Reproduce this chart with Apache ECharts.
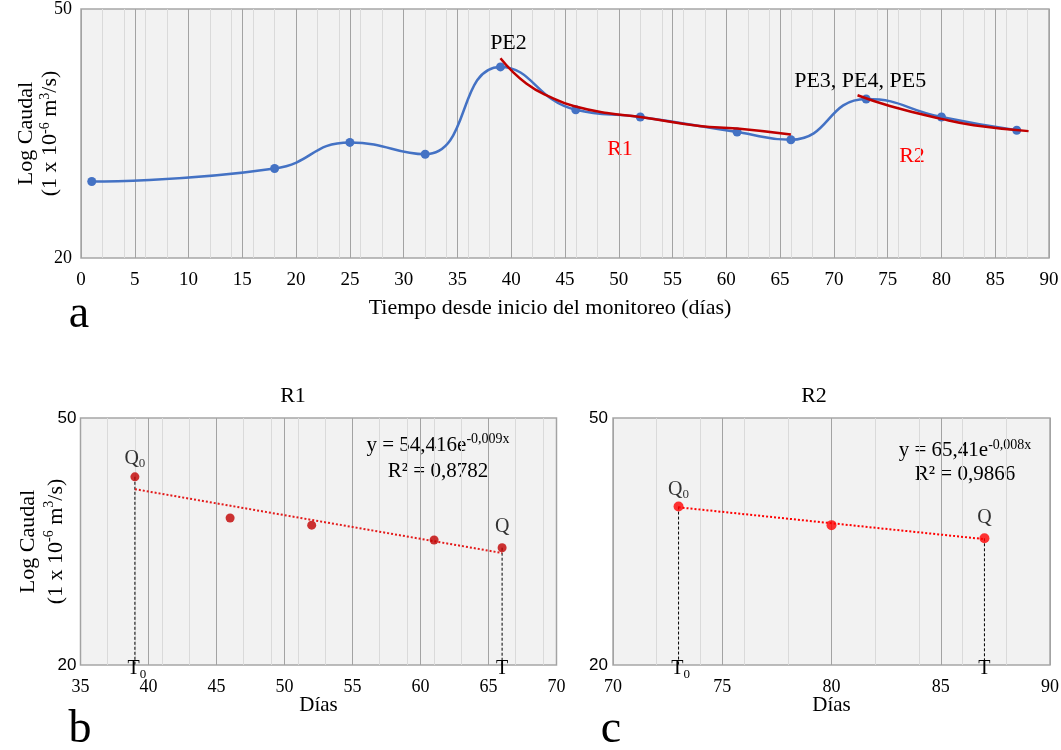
<!DOCTYPE html>
<html>
<head>
<meta charset="utf-8">
<script src="https://cdn.jsdelivr.net/npm/echarts@6/dist/echarts.min.js"></script>
<style>
  html, body { margin: 0; padding: 0; background: #ffffff; }
  #chart { width: 1061px; height: 750px; }
</style>
</head>
<body>
<div id="chart"></div>
<script>
// Hydrograph: days since start of monitoring and discharge (1e-6 m3/s)
const dias = [1, 18, 25, 32, 39, 46, 52, 61, 66, 73, 80, 87];
const caudal = [26.5, 27.8, 30.6, 29.3, 40.4, 34.5, 33.6, 31.8, 30.9, 35.9, 33.6, 32.0];
// peak event labels (index in dias)
const picoIdx = [4, 9];
const picoTxt = ['PE2', 'PE3, PE4, PE5'];

// recession curves over the hydrograph
const curvaR1Dias = [39, 41.4, 43.9, 45.8, 48.9, 52, 57.5, 61, 66];
const curvaR1Caudal = [41.7, 38.0, 36.0, 35.0, 34.1, 33.6, 32.5, 32.2, 31.5];
const curvaR2Dias = [72.2, 75.2, 79.9, 83, 88.1];
const curvaR2Caudal = [36.4, 35.0, 33.4, 32.6, 31.9];

// recession R1
const diasR1 = [39, 46, 52, 61, 66];
const caudalR1 = [40.2, 34.5, 33.6, 31.8, 30.9];
const tendR1Dias = [39, 66];
const tendR1Caudal = [38.4, 30.3];

// recession R2
const diasR2 = [73, 80, 87];
const caudalR2 = [36.0, 33.6, 32.0];
const tendR2Dias = [73, 87];
const tendR2Caudal = [35.9, 31.9];

// axis ticks
const yTicks = [20, 50];
const xRangeA = [0, 90];
const xRangeB = [35, 70];
const xRangeC = [70, 90];

const SERIF = 'Liberation Serif';
const SANS = 'Liberation Sans';

const pairs = (xs, ys) => xs.map((x, i) => [x, ys[i]]);

// rich styles for sub/superscripts
const subRich = (size) => ({
  q: { fontFamily: SERIF, fontSize: size, lineHeight: 24, color: '#000' },
  s: { fontFamily: SERIF, fontSize: 13, lineHeight: 13, padding: [11, 0, 0, 0], verticalAlign: 'top', color: '#000' }
});
const nameRich = (lh) => ({
  n: { fontFamily: SERIF, fontSize: 22, lineHeight: lh, color: '#000' },
  s: { fontFamily: SERIF, fontSize: 14, lineHeight: 14, padding: [0, 0, lh - 14, 0], verticalAlign: 'top', color: '#000' }
});
const yName = '{n|Log Caudal}\n{n|(1 x 10}{s|-6}{n| m}{s|3}{n|/s)}';

function gridBox(left, top, width, height) {
  return {
    left, top, width, height, show: true, z: 0,
    outerBoundsMode: 'none', containLabel: false,
    backgroundColor: '#F2F2F2', borderColor: '#A6A6A6', borderWidth: 1.5
  };
}

function xPair(gridIndex, range, fontSize, name, nameGap, namePad) {
  const major = {
    type: 'value', gridIndex, min: range[0], max: range[1], interval: 5, z: 2,
    position: 'bottom',
    axisLine: { show: false }, axisTick: { show: false },
    axisLabel: { fontFamily: SERIF, fontSize, color: '#000', margin: 13 },
    splitLine: { show: true, lineStyle: { color: '#A3A3A3', width: 1 } },
    name, nameLocation: 'middle', nameGap, nameMoveOverlap: false,
    nameTextStyle: { fontFamily: SERIF, fontSize: name.length > 10 ? 22 : 21, color: '#000', padding: namePad }
  };
  const minor = {
    type: 'value', gridIndex, min: range[0], max: range[1], interval: 2, z: 1,
    position: 'top',
    axisLine: { show: false }, axisTick: { show: false }, axisLabel: { show: false },
    splitLine: { show: true, lineStyle: { color: '#DADADA', width: 1 } }
  };
  return [major, minor];
}

function yAxisLog(gridIndex, fontFamily, fontSize, margin, lh, gap) {
  return {
    type: 'log', logBase: 10, gridIndex, min: yTicks[0], max: yTicks[1],
    axisLine: { show: false }, axisTick: { show: false },
    splitLine: { show: false },
    axisLabel: { customValues: yTicks, fontFamily, fontSize, color: '#000', margin },
    name: yName, nameLocation: 'middle', nameRotate: 90, nameGap: gap, nameMoveOverlap: false,
    nameTextStyle: { fontFamily: SERIF, fontSize: 22, lineHeight: lh, color: '#000', rich: nameRich(lh) }
  };
}

// hydrograph points with peak labels
const hidroData = dias.map((d, i) => {
  const item = { value: [d, caudal[i]] };
  const k = picoIdx.indexOf(i);
  if (k >= 0) {
    item.label = {
      show: true, formatter: picoTxt[k], position: 'top', distance: 5,
      offset: k === 0 ? [8, -3] : [-6, 3],
      fontFamily: SERIF, fontSize: 22, color: '#000'
    };
  }
  return item;
});

function pointsWithQ(xs, ys, dists) {
  return xs.map((x, i) => {
    const item = { value: [x, ys[i]] };
    if (i === 0 || i === xs.length - 1) {
      item.label = {
        show: true, position: 'top', distance: i === 0 ? dists[0] : dists[1],
        formatter: i === 0 ? '{q|Q}{s|0}' : '{q|Q}',
        rich: subRich(20)
      };
    }
    return item;
  });
}

function dropLine(x, y, xAxisIndex, yAxisIndex, txt, offset) {
  return {
    type: 'line', xAxisIndex, yAxisIndex, z: 3,
    symbol: 'circle', symbolSize: 2, showSymbol: true,
    itemStyle: { color: 'rgba(0,0,0,0)' },
    lineStyle: { color: '#000', width: 1, type: [3, 2] },
    data: [
      { value: [x, y] },
      { value: [x, yTicks[0]], label: { show: true, position: 'inside', offset, formatter: txt, rich: subRich(20) } }
    ]
  };
}

const chart = echarts.init(document.getElementById('chart'), null, { renderer: 'canvas' });

const option = {
  animation: false,
  backgroundColor: '#ffffff',
  grid: [
    gridBox(81, 9, 968, 249),
    gridBox(80.5, 418, 476, 247),
    gridBox(613, 418, 437, 247)
  ],
  xAxis: [
    ...xPair(0, xRangeA, 19, 'Tiempo desde inicio del monitoreo (días)', 39, [0, 30, 0, 0]),
    ...xPair(1, xRangeB, 18, 'Días', 30, 0),
    ...xPair(2, xRangeC, 18, 'Días', 30, 0)
  ],
  yAxis: [
    yAxisLog(0, SERIF, 18, 9, 24, 19),
    yAxisLog(1, SANS, 17, 4, 28, 10),
    { ...yAxisLog(2, SANS, 17, 5, 28, 10), name: '' }
  ],
  series: [
    {
      type: 'line', xAxisIndex: 0, yAxisIndex: 0, z: 3,
      smooth: true, symbol: 'circle', symbolSize: 9,
      itemStyle: { color: '#4472C4' },
      lineStyle: { color: '#4472C4', width: 2.5 },
      data: hidroData
    },
    {
      type: 'line', xAxisIndex: 0, yAxisIndex: 0, z: 4,
      smooth: true, showSymbol: false,
      lineStyle: { color: '#C00000', width: 2.5 },
      data: pairs(curvaR1Dias, curvaR1Caudal)
    },
    {
      type: 'line', xAxisIndex: 0, yAxisIndex: 0, z: 4,
      smooth: true, showSymbol: false,
      lineStyle: { color: '#C00000', width: 2.5 },
      data: pairs(curvaR2Dias, curvaR2Caudal)
    },
    // R1 panel
    dropLine(diasR1[0], caudalR1[0], 2, 1, '{q|T}{s|0}', [2, 4]),
    dropLine(diasR1[diasR1.length - 1], caudalR1[caudalR1.length - 1], 2, 1, '{q|T}', [0, 4]),
    {
      type: 'line', xAxisIndex: 2, yAxisIndex: 1, z: 3,
      showSymbol: false,
      lineStyle: { color: '#E31A1A', width: 2, type: [2, 2] },
      data: pairs(tendR1Dias, tendR1Caudal)
    },
    {
      type: 'scatter', xAxisIndex: 2, yAxisIndex: 1, z: 5,
      symbolSize: 9, itemStyle: { color: '#C00000' },
      data: pointsWithQ(diasR1, caudalR1, [2, 4])
    },
    // R2 panel
    dropLine(diasR2[0], caudalR2[0], 4, 2, '{q|T}{s|0}', [2, 4]),
    dropLine(diasR2[diasR2.length - 1], caudalR2[caudalR2.length - 1], 4, 2, '{q|T}', [0, 4]),
    {
      type: 'line', xAxisIndex: 4, yAxisIndex: 2, z: 3,
      showSymbol: false,
      lineStyle: { color: '#FF0000', width: 2, type: [2, 2] },
      data: pairs(tendR2Dias, tendR2Caudal)
    },
    {
      type: 'scatter', xAxisIndex: 4, yAxisIndex: 2, z: 5,
      symbolSize: 10, itemStyle: { color: '#FF0000' },
      data: pointsWithQ(diasR2, caudalR2, [0, 4])
    }
  ],
  graphic: [
    // curve names on the hydrograph
    { type: 'text', x: 620, y: 149, style: { text: 'R1', fontFamily: SERIF, fontSize: 22, fill: '#FF0000', align: 'center', verticalAlign: 'middle' } },
    { type: 'text', x: 912, y: 156, style: { text: 'R2', fontFamily: SERIF, fontSize: 22, fill: '#FF0000', align: 'center', verticalAlign: 'middle' } },
    // panel titles
    { type: 'text', x: 293, y: 396, style: { text: 'R1', fontFamily: SERIF, fontSize: 22, fill: '#000', align: 'center', verticalAlign: 'middle' } },
    { type: 'text', x: 814, y: 396, style: { text: 'R2', fontFamily: SERIF, fontSize: 22, fill: '#000', align: 'center', verticalAlign: 'middle' } },
    // fitted equations
    {
      type: 'text', x: 438, y: 458,
      style: {
        text: '{m|y = 54,416e}{s|-0,009x}\n{m|R² = 0,8782}',
        align: 'center', verticalAlign: 'middle', fill: '#000', fontFamily: SERIF, fontSize: 21,
        rich: {
          m: { fontFamily: SERIF, fontSize: 21, lineHeight: 26, fill: '#000' },
          s: { fontFamily: SERIF, fontSize: 14, lineHeight: 14, padding: [0, 0, 12, 0], verticalAlign: 'top', fill: '#000' }
        }
      }
    },
    {
      type: 'text', x: 965, y: 462,
      style: {
        text: '{m|y = 65,41e}{s|-0,008x}\n{m|R² = 0,9866}',
        align: 'center', verticalAlign: 'middle', fill: '#000', fontFamily: SERIF, fontSize: 21,
        rich: {
          m: { fontFamily: SERIF, fontSize: 21, lineHeight: 24, fill: '#000' },
          s: { fontFamily: SERIF, fontSize: 14, lineHeight: 14, padding: [0, 0, 10, 0], verticalAlign: 'top', fill: '#000' }
        }
      }
    },
    // panel letters
    { type: 'text', x: 79, y: 315, style: { text: 'a', fontFamily: SERIF, fontSize: 46, fill: '#000', align: 'center', verticalAlign: 'middle' } },
    { type: 'text', x: 80, y: 730, style: { text: 'b', fontFamily: SERIF, fontSize: 46, fill: '#000', align: 'center', verticalAlign: 'middle' } },
    { type: 'text', x: 611, y: 730, style: { text: 'c', fontFamily: SERIF, fontSize: 46, fill: '#000', align: 'center', verticalAlign: 'middle' } }
  ]
};

chart.setOption(option);
</script>
</body>
</html>
